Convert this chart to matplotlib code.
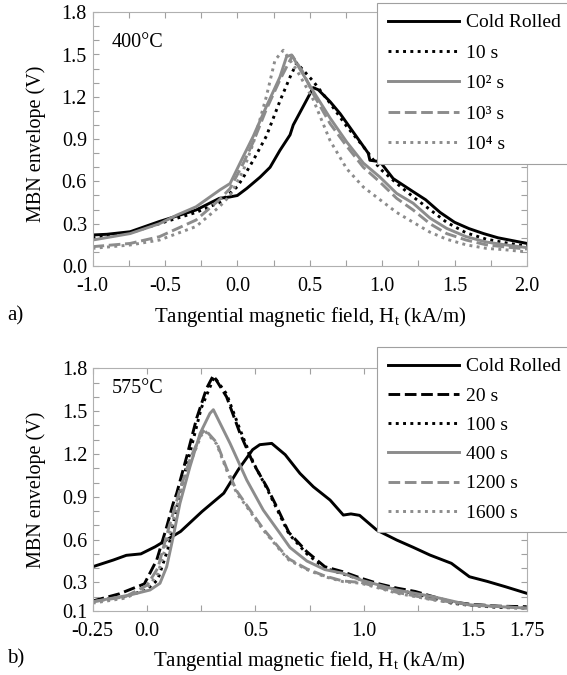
import matplotlib
matplotlib.use("Agg")
import matplotlib.pyplot as plt
from matplotlib.ticker import FixedLocator, FixedFormatter, MultipleLocator

plt.rcParams["font.family"] = ["Liberation Serif", "DejaVu Serif"]
plt.rcParams["mathtext.fontset"] = "custom"
plt.rcParams["mathtext.rm"] = "Liberation Serif"
plt.rcParams["mathtext.it"] = "Liberation Serif:italic"

# ---- a) 400 C ----
a_labels = ["Cold Rolled", "10 s", "10² s", "10³ s", "10⁴ s"]

a_cold_x = [-1.0, -0.9, -0.74, -0.54, -0.285, -0.124, -0.05, 0.0, 0.065, 0.157, 0.226,
            0.294, 0.364, 0.386, 0.467, 0.524, 0.559, 0.64, 0.71, 0.80, 0.904, 0.915,
            0.985, 1.076, 1.214, 1.3, 1.4, 1.5, 1.6, 1.7, 1.8, 1.9, 2.0]
a_cold_y = [0.22, 0.225, 0.243, 0.315, 0.397, 0.48, 0.49, 0.50, 0.55, 0.63, 0.70,
            0.82, 0.93, 1.0, 1.155, 1.265, 1.25, 1.166, 1.08, 0.95, 0.80, 0.75,
            0.74, 0.62, 0.527, 0.47, 0.38, 0.31, 0.265, 0.23, 0.20, 0.18, 0.16]

a_10_x = [-1.0, -0.74, -0.54, -0.285, -0.124, 0.0, 0.042, 0.11, 0.20, 0.294, 0.364, 0.41,
          0.524, 0.64, 0.755, 0.87, 0.985, 1.1, 1.214, 1.33, 1.445, 1.58, 1.72, 1.85, 2.0]
a_10_y = [0.20, 0.235, 0.30, 0.38, 0.45, 0.563, 0.63, 0.75, 0.92, 1.17, 1.34, 1.44,
          1.31, 1.155, 0.99, 0.847, 0.69, 0.586, 0.49, 0.40, 0.31, 0.235, 0.19, 0.165, 0.14]

a_1e2_x = [-1.0, -0.74, -0.538, -0.42, -0.285, -0.12, -0.05, 0.04, 0.11, 0.20, 0.294,
           0.34, 0.375, 0.43, 0.524, 0.64, 0.755, 0.87, 0.985, 1.1, 1.214, 1.33, 1.445,
           1.58, 1.72, 1.85, 2.0]
a_1e2_y = [0.184, 0.23, 0.30, 0.36, 0.42, 0.54, 0.585, 0.775, 0.92, 1.13, 1.34,
           1.485, 1.497, 1.40, 1.24, 1.05, 0.88, 0.73, 0.63, 0.515, 0.445, 0.34, 0.267,
           0.208, 0.17, 0.15, 0.13]

a_1e3_x = [-1.0, -0.74, -0.538, -0.285, -0.124, -0.05, 0.042, 0.11, 0.20, 0.294, 0.364,
           0.38, 0.45, 0.524, 0.64, 0.755, 0.87, 0.985, 1.1, 1.214, 1.33, 1.445, 1.58,
           1.72, 1.85, 2.0]
a_1e3_y = [0.137, 0.16, 0.208, 0.326, 0.47, 0.55, 0.73, 0.88, 1.11, 1.32, 1.46,
           1.49, 1.38, 1.22, 1.01, 0.85, 0.70, 0.595, 0.48, 0.397, 0.30, 0.23, 0.184,
           0.15, 0.135, 0.12]

a_1e4_x = [-1.0, -0.74, -0.538, -0.285, -0.124, -0.05, 0.042, 0.11, 0.20, 0.26, 0.317,
           0.41, 0.524, 0.64, 0.755, 0.87, 0.985, 1.1, 1.214, 1.33, 1.445, 1.58, 1.72,
           1.85, 2.0]
a_1e4_y = [0.125, 0.149, 0.184, 0.28, 0.42, 0.50, 0.68, 0.87, 1.2, 1.46, 1.53,
           1.39, 1.18, 0.89, 0.69, 0.56, 0.47, 0.38, 0.31, 0.24, 0.19, 0.15, 0.125,
           0.115, 0.10]

# ---- b) 575 C ----
b_labels = ["Cold Rolled", "20 s", "100 s", "400 s", "1200 s", "1600 s"]

b_cold_x = [-0.25, -0.155, -0.095, -0.028, 0.038, 0.155, 0.254, 0.354, 0.421, 0.487, 0.52,
            0.575, 0.637, 0.705, 0.767, 0.844, 0.905, 0.94, 0.98, 1.059, 1.151, 1.227,
            1.304, 1.403, 1.486, 1.569, 1.652, 1.75]
b_cold_y = [0.41, 0.457, 0.49, 0.50, 0.55, 0.657, 0.797, 0.925, 1.09, 1.23, 1.265,
            1.274, 1.195, 1.064, 0.97, 0.877, 0.772, 0.78, 0.77, 0.667, 0.597, 0.546,
            0.492, 0.434, 0.34, 0.307, 0.27, 0.224]

b_20_x = [-0.25, -0.128, -0.012, 0.045, 0.091, 0.121, 0.137, 0.183, 0.229, 0.275, 0.306,
          0.367, 0.429, 0.49, 0.552, 0.598, 0.654, 0.737, 0.82, 0.903, 0.986, 1.07,
          1.153, 1.236, 1.32, 1.403, 1.486, 1.62, 1.75]
b_20_y = [0.17, 0.22, 0.29, 0.457, 0.69, 0.854, 0.924, 1.18, 1.45, 1.66, 1.75,
          1.60, 1.344, 1.134, 0.97, 0.83, 0.65, 0.515, 0.41, 0.375, 0.33, 0.29,
          0.26, 0.237, 0.2, 0.165, 0.148, 0.134, 0.13]

b_100_x = [-0.25, -0.1, 0.0, 0.05, 0.1, 0.15, 0.2, 0.25, 0.31, 0.367, 0.429, 0.49, 0.552,
           0.613, 0.654, 0.737, 0.82, 0.903, 0.986, 1.07, 1.153, 1.236, 1.32, 1.403,
           1.486, 1.62, 1.75]
b_100_y = [0.17, 0.2, 0.25, 0.32, 0.55, 0.92, 1.22, 1.52, 1.74, 1.62, 1.37, 1.14, 0.96,
           0.77, 0.64, 0.50, 0.40, 0.36, 0.32, 0.28, 0.25, 0.22, 0.19, 0.155,
           0.14, 0.125, 0.12]

b_400_x = [-0.25, -0.078, 0.014, 0.06, 0.091, 0.121, 0.152, 0.198, 0.245, 0.29, 0.306,
           0.383, 0.46, 0.536, 0.613, 0.659, 0.737, 0.82, 0.903, 0.986, 1.153, 1.32,
           1.486, 1.75]
b_400_y = [0.165, 0.212, 0.247, 0.294, 0.41, 0.62, 0.854, 1.11, 1.344, 1.484, 1.51,
           1.274, 1.017, 0.807, 0.644, 0.545, 0.45, 0.39, 0.364, 0.317, 0.247, 0.2,
           0.142, 0.12]

b_1200_x = [-0.25, -0.1, 0.0, 0.05, 0.1, 0.15, 0.2, 0.25, 0.268, 0.321, 0.367, 0.414,
            0.46, 0.536, 0.613, 0.654, 0.737, 0.82, 0.903, 0.986, 1.07, 1.153, 1.32,
            1.486, 1.75]
b_1200_y = [0.165, 0.2, 0.28, 0.40, 0.68, 0.94, 1.17, 1.34, 1.37, 1.28, 1.10, 0.94,
            0.84, 0.675, 0.535, 0.465, 0.395, 0.345, 0.31, 0.30, 0.265, 0.23, 0.18,
            0.145, 0.12]

b_1600_x = [-0.25, -0.1, 0.0, 0.05, 0.1, 0.15, 0.2, 0.25, 0.268, 0.321, 0.367, 0.414,
            0.46, 0.536, 0.613, 0.654, 0.737, 0.82, 0.903, 0.986, 1.07, 1.153, 1.32,
            1.486, 1.75]
b_1600_y = [0.155, 0.19, 0.26, 0.36, 0.62, 0.9, 1.14, 1.33, 1.36, 1.27, 1.087, 0.924,
            0.83, 0.667, 0.527, 0.457, 0.39, 0.34, 0.306, 0.294, 0.26, 0.224, 0.177,
            0.142, 0.12]

# ticks
a_xticks = [-1.0, -0.5, 0.0, 0.5, 1.0, 1.5, 2.0]
a_xticklabels = ["-1.0", "-0.5", "0.0", "0.5", "1.0", "1.5", "2.0"]
a_yticks = [0.0, 0.3, 0.6, 0.9, 1.2, 1.5, 1.8]
b_xticks = [-0.25, 0.0, 0.5, 1.0, 1.5, 1.75]
b_xticklabels = ["-0.25", "0.0", "0.5", "1.0", "1.5", "1.75"]
b_yticks = [0.1, 0.3, 0.6, 0.9, 1.2, 1.5, 1.8]

BLACK = "black"
GRAY = "#8c8c8c"
SOLID = "-"
DOTTED = (0, (1, 1.5))
DASHED = (0, (4, 1.6))
LW = 2.1

W, H = 567, 675


def setupAxes(ax, xlim, ylim, xticks, xticklabels, yticks):
    ax.set_xlim(*xlim)
    ax.set_ylim(*ylim)
    ax.xaxis.set_major_locator(FixedLocator(xticks))
    ax.xaxis.set_major_formatter(FixedFormatter(xticklabels))
    ax.xaxis.set_minor_locator(MultipleLocator(0.25))
    ax.yaxis.set_major_locator(FixedLocator(yticks))
    ax.yaxis.set_major_formatter(FixedFormatter(["%.1f" % v for v in yticks]))
    ax.yaxis.set_minor_locator(MultipleLocator(0.1))
    for which in ("major", "minor"):
        ax.tick_params(which=which, direction="in", length=4, width=0.8,
                       color="#a0a0a0", top=True, right=True)
    ax.tick_params(axis="x", labelsize=14.5, pad=8)
    ax.tick_params(axis="y", labelsize=14.5, pad=4)
    for s in ax.spines.values():
        s.set_color("#b0b0b0")
        s.set_linewidth(0.8)
    ax.set_ylabel("MBN envelope (V)", fontsize=14.5)
    ax.set_xlabel("Tangential magnetic field, H$_\\mathrm{t}$ (kA/m)", fontsize=15)


def addLegend(ax, fig, top_px, spacing):
    # box runs past the right edge of the figure, as in the original
    leg = ax.legend(loc="upper left", bbox_to_anchor=(377 / W, 1 - top_px / H, 210 / W, 0),
                    bbox_transform=fig.transFigure, mode="expand", borderaxespad=0,
                    fontsize=14, frameon=True, fancybox=False, framealpha=1,
                    edgecolor="#a0a0a0", borderpad=0.55, handlelength=3.65,
                    handletextpad=0.4, labelspacing=spacing)
    leg.get_frame().set_linewidth(0.8)
    return leg


fig = plt.figure(figsize=(W / 100, H / 100), dpi=100)

# panel a
ax1 = fig.add_axes([92.5 / W, (H - 266) / H, 434.5 / W, 253.8 / H])
a_series = [(a_cold_x, a_cold_y, BLACK, SOLID), (a_10_x, a_10_y, BLACK, DOTTED),
            (a_1e2_x, a_1e2_y, GRAY, SOLID), (a_1e3_x, a_1e3_y, GRAY, DASHED),
            (a_1e4_x, a_1e4_y, GRAY, DOTTED)]
for (xs, ys, c, ls), lab in zip(a_series, a_labels):
    ax1.plot(xs, ys, color=c, linestyle=ls, linewidth=LW, label=lab)
setupAxes(ax1, (-1.0, 2.0), (0.0, 1.8), a_xticks, a_xticklabels, a_yticks)
ax1.xaxis.set_label_coords(0.5, -0.201)
ax1.xaxis.label.set_va("center")
ax1.yaxis.set_label_coords(-0.13, 0.48)
ax1.yaxis.label.set_va("center")
ax1.text(0.045, 0.879, "400°C", transform=ax1.transAxes, fontsize=14.5, va="center")
addLegend(ax1, fig, 3, 0.66)

# panel b
ax2 = fig.add_axes([92.7 / W, (H - 611) / H, 434 / W, 242.7 / H])
b_series = [(b_cold_x, b_cold_y, BLACK, SOLID), (b_20_x, b_20_y, BLACK, DASHED),
            (b_100_x, b_100_y, BLACK, DOTTED), (b_400_x, b_400_y, GRAY, SOLID),
            (b_1200_x, b_1200_y, GRAY, DASHED), (b_1600_x, b_1600_y, GRAY, DOTTED)]
for (xs, ys, c, ls), lab in zip(b_series, b_labels):
    ax2.plot(xs, ys, color=c, linestyle=ls, linewidth=LW, label=lab)
setupAxes(ax2, (-0.25, 1.75), (0.1, 1.8), b_xticks, b_xticklabels, b_yticks)
ax2.xaxis.set_label_coords(0.5, -0.206)
ax2.xaxis.label.set_va("center")
ax2.yaxis.set_label_coords(-0.13, 0.5)
ax2.yaxis.label.set_va("center")
ax2.text(0.045, 0.915, "575°C", transform=ax2.transAxes, fontsize=14.5, va="center")
addLegend(ax2, fig, 347, 0.6)

fig.text(7 / W, 1 - 316 / H, "a)", fontsize=15, va="center")
fig.text(7 / W, 1 - 659 / H, "b)", fontsize=15, va="center")

fig.savefig("out.png", dpi=100)
